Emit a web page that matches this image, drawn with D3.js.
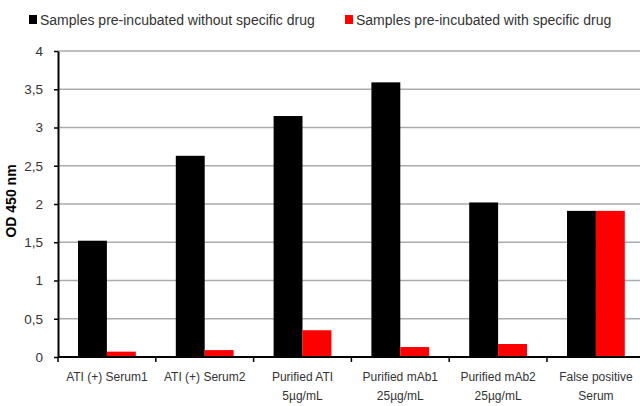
<!DOCTYPE html>
<html>
<head>
<meta charset="utf-8">
<script src="https://cdn.jsdelivr.net/npm/d3@7"></script>
<style>
  body { margin: 0; background: #fff; }
  text { font-family: "Liberation Sans", Arial, sans-serif; fill: #333; }
</style>
</head>
<body>
<div id="chart"></div>
<script>
// data
let categories = ["ATI (+) Serum1", "ATI (+) Serum2", "Purified ATI|5µg/mL",
    "Purified mAb1|25µg/mL", "Purified mAb2|25µg/mL", "False positive|Serum"];
let withoutDrug = [1.52, 2.63, 3.15, 3.59, 2.02, 1.91];
let withDrug = [0.07, 0.09, 0.35, 0.13, 0.17, 1.91];
let seriesNames = ["Samples pre-incubated without specific drug", "Samples pre-incubated with specific drug"];
let seriesColors = ["#000000", "#ff0000"];
let yTicks = [0, 0.5, 1, 1.5, 2, 2.5, 3, 3.5, 4];

let svgWidth = 640;
let svgHeight = 406;

let margin = { top: 51, left: 58, bottom: 49 };
let bandW = 97.8;
let plotBottom = svgHeight - margin.bottom;

let svg = d3.select("#chart")
    .append("svg")
    .attr("width", svgWidth)
    .attr("height", svgHeight);

let x0 = d3.scaleBand()
    .domain(categories)
    .range([margin.left, margin.left + bandW * categories.length]);

let x1 = d3.scaleBand()
    .domain([0, 1])
    .range([20, bandW - 20]);

let y = d3.scaleLinear()
    .domain([0, 4])
    .range([plotBottom, margin.top]);

// gridlines
svg.append("g")
    .selectAll("line")
    .data(yTicks.slice(1))
    .enter()
    .append("line")
    .attr("x1", margin.left)
    .attr("x2", svgWidth)
    .attr("y1", d => y(d))
    .attr("y2", d => y(d))
    .attr("stroke", "#ababab")
    .attr("stroke-width", 1.5);

// bars
let rows = categories.map((c, i) => ({ cat: c, vals: [withoutDrug[i], withDrug[i]] }));

let groups = svg.selectAll(".cat")
    .data(rows)
    .enter()
    .append("g")
    .attr("class", "cat")
    .attr("transform", d => `translate(${x0(d.cat)},0)`);

groups.selectAll("rect")
    .data(d => d.vals.map((v, k) => ({ k: k, v: v })))
    .enter()
    .append("rect")
    .attr("x", d => x1(d.k))
    .attr("width", x1.bandwidth())
    .attr("y", d => y(d.v))
    .attr("height", d => plotBottom - y(d.v))
    .attr("fill", d => seriesColors[d.k]);

// y axis
let leftAxis = d3.axisLeft(y)
    .tickValues(yTicks)
    .tickFormat(d => String(d).replace(".", ","))
    .tickSizeInner(4)
    .tickSizeOuter(0)
    .tickPadding(11);

let yAxisG = svg.append("g")
    .attr("transform", `translate(${margin.left},0)`)
    .call(leftAxis);
yAxisG.select(".domain").attr("stroke", "#000").attr("stroke-width", 2);
yAxisG.selectAll(".tick line").attr("stroke", "#000").attr("stroke-width", 1.5);
yAxisG.selectAll(".tick text")
    .style("font-family", "'Liberation Sans', Arial, sans-serif")
    .style("font-size", "13.5px")
    .attr("fill", "#333");

// x axis: line + ticks at category boundaries
svg.append("line")
    .attr("x1", margin.left)
    .attr("x2", svgWidth)
    .attr("y1", plotBottom)
    .attr("y2", plotBottom)
    .attr("stroke", "#000")
    .attr("stroke-width", 2);

svg.append("g")
    .selectAll("line")
    .data(categories)
    .enter()
    .append("line")
    .attr("x1", d => x0(d))
    .attr("x2", d => x0(d))
    .attr("y1", plotBottom)
    .attr("y2", plotBottom + 5)
    .attr("stroke", "#000")
    .attr("stroke-width", 1.5);

let xLabels = svg.append("g")
    .selectAll("text")
    .data(categories)
    .enter()
    .append("text")
    .attr("text-anchor", "middle")
    .attr("font-size", "12px")
    .attr("x", d => x0(d) + x0.bandwidth() / 2)
    .attr("y", plotBottom + 24);

xLabels.selectAll("tspan")
    .data(d => d.split("|"))
    .enter()
    .append("tspan")
    .attr("x", function() { return d3.select(this.parentNode).attr("x"); })
    .attr("dy", (d, i) => i === 0 ? 0 : 19)
    .text(d => d);

// y axis title
svg.append("text")
    .attr("transform", `translate(16, ${(margin.top + plotBottom) / 2 - 3}) rotate(-90)`)
    .attr("text-anchor", "middle")
    .attr("font-size", "14px")
    .attr("font-weight", "bold")
    .style("fill", "#000")
    .text("OD 450 nm");

// legend
let legendX = [29, 345];
let legend = svg.selectAll(".legend")
    .data(seriesNames)
    .enter()
    .append("g")
    .attr("class", "legend")
    .attr("transform", (d, i) => `translate(${legendX[i]}, 15)`);

legend.append("rect")
    .attr("width", 8)
    .attr("height", 9)
    .attr("fill", (d, i) => seriesColors[i]);

legend.append("text")
    .attr("x", 11)
    .attr("y", 9.5)
    .attr("font-size", "14px")
    .text(d => d);
</script>
</body>
</html>
